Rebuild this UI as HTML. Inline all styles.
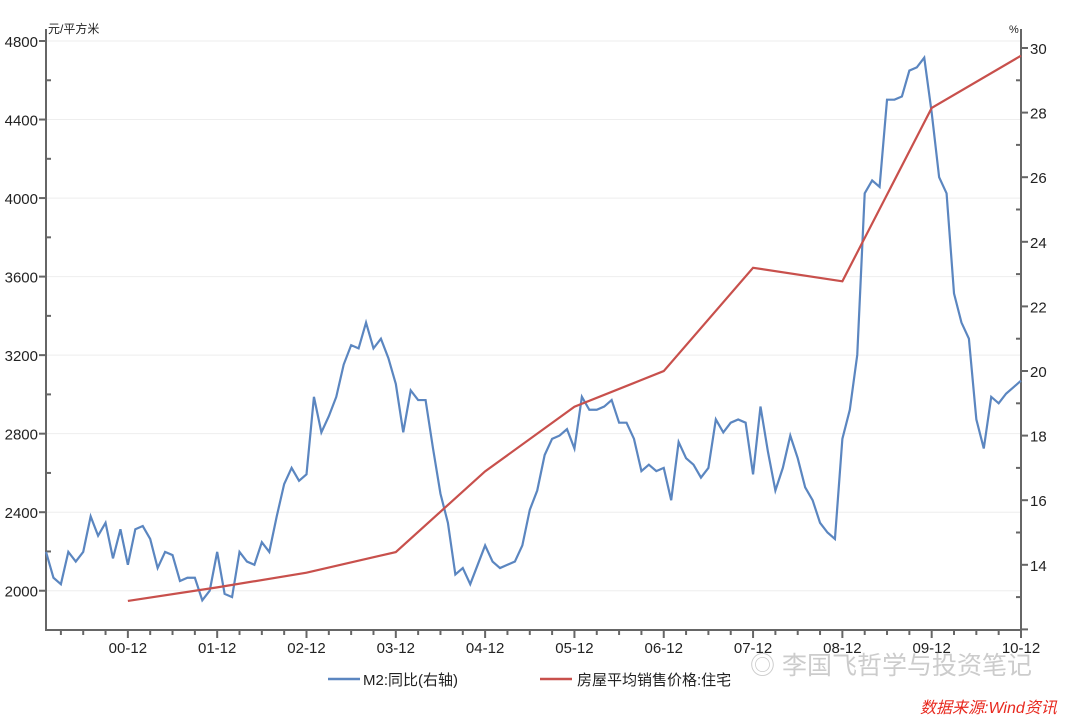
<!DOCTYPE html>
<html><head><meta charset="utf-8"><style>
body{margin:0;background:#fff;}
svg{display:block;font-family:"Liberation Sans","Noto Sans CJK SC",sans-serif;}
</style></head><body>
<svg id="chart" width="1080" height="716" viewBox="0 0 1080 716" xmlns="http://www.w3.org/2000/svg">
<g id="grid"></g>
<g id="axes"></g>
<g id="series"></g>
<text x="48" y="33" font-size="12" fill="#222">元/平方米</text>
<text x="1009" y="33" font-size="11" fill="#222">%</text>
<g>
<line x1="328" y1="679" x2="360" y2="679" stroke="#5b86c0" stroke-width="2.5"/>
<text x="363" y="685" font-size="15" fill="#222">M2:同比(右轴)</text>
<line x1="540" y1="679" x2="572" y2="679" stroke="#c8504c" stroke-width="2.5"/>
<text x="577" y="685" font-size="15" fill="#222">房屋平均销售价格:住宅</text>
</g>
<text x="750" y="674" font-size="25" fill="#cccccc">◎ 李国飞哲学与投资笔记</text>
<text x="920" y="713" font-size="16" font-style="italic" fill="#e8291f">数据来源:Wind资讯</text>
</svg>
<script>
const xLabels=["00-12","01-12","02-12","03-12","04-12","05-12","06-12","07-12","08-12","09-12","10-12"];
const leftTicks=[2000,2400,2800,3200,3600,4000,4400,4800];
const rightTicks=[14,16,18,20,22,24,26,28,30];
const priceMonths=[11,23,35,47,59,71,83,95,107,119,131];
const priceValues=[1948,2017,2092,2197,2608,2937,3119,3645,3576,4459,4725];
const m2Values=[14.4,13.6,13.4,14.4,14.1,14.4,15.5,14.9,15.3,14.2,15.1,14.0,
15.1,15.2,14.8,13.9,14.4,14.3,13.5,13.6,13.6,12.9,13.2,14.4,
13.1,13.0,14.4,14.1,14.0,14.7,14.4,15.5,16.5,17.0,16.6,16.8,
19.2,18.1,18.6,19.2,20.2,20.8,20.7,21.5,20.7,21.0,20.4,19.6,
18.1,19.4,19.1,19.1,17.6,16.2,15.3,13.7,13.9,13.4,14.0,14.6,
14.1,13.9,14.0,14.1,14.6,15.7,16.3,17.4,17.9,18.0,18.2,17.6,
19.2,18.8,18.8,18.9,19.1,18.4,18.4,17.9,16.9,17.1,16.9,17.0,
16.0,17.8,17.3,17.1,16.7,17.0,18.5,18.1,18.4,18.5,18.4,16.8,
18.9,17.5,16.3,17.0,18.0,17.3,16.4,16.0,15.3,15.0,14.8,17.9,
18.8,20.5,25.5,25.9,25.7,28.4,28.4,28.5,29.3,29.4,29.7,28.0,
26.0,25.5,22.4,21.5,21.0,18.5,17.6,19.2,19.0,19.3,19.5,19.7];
const X0=46,X1=1021,YB=630,YT=29;
const xs=m=>X0+m*(X1-X0)/131;
const yL=v=>630-(v-1800)*(589/3000);
const yR=v=>48+(30-v)*32.3;
const NS="http://www.w3.org/2000/svg";
function mk(p,tag,at){const e=document.createElementNS(NS,tag);for(const k in at)e.setAttribute(k,at[k]);p.appendChild(e);return e;}
const grid=document.getElementById('grid'),axes=document.getElementById('axes'),ser=document.getElementById('series');
leftTicks.forEach(v=>{
 const g=mk(grid,'line',{x1:X0,x2:X1,y1:yL(v),y2:yL(v),stroke:'#eeeeee','stroke-width':1});
 
 
 const t=mk(axes,'text',{x:X0-8,y:yL(v)+6,'font-size':15,'text-anchor':'end',fill:'#222'});t.textContent=v;
 
 
});
for(let v=1800;v<=4800;v+=200){mk(axes,'line',{x1:X0-(v%400==0?7:0),x2:X0+(v%400==0?0:5),y1:yL(v),y2:yL(v),stroke:'#666','stroke-width':2});}
rightTicks.forEach(v=>{
 const t=mk(axes,'text',{x:X1+9,y:yR(v)+6,'font-size':15,fill:'#222'});t.textContent=v;
 
 
});
for(let v=12;v<=30;v++){mk(axes,'line',{x1:X1-(v%2?5:0),x2:X1+(v%2?0:7),y1:yR(v),y2:yR(v),stroke:'#666','stroke-width':2});}
for(let m=2;m<=131;m+=3){const major=(m-11)%12==0;mk(axes,'line',{x1:xs(m),x2:xs(m),y1:YB,y2:YB+(major?8:5),stroke:'#666','stroke-width':2});}
xLabels.forEach((l,i)=>{
 const t=mk(axes,'text',{x:xs(11+12*i),y:YB+23,'font-size':15,'text-anchor':'middle',fill:'#222'});t.textContent=l;
 
 
});
const ax=mk(axes,'path',{d:`M${X0},${YT}V${YB}H${X1}V${YT}`,fill:'none',stroke:'#666','stroke-width':2});


const m2=mk(ser,'polyline',{points:m2Values.map((v,i)=>xs(i)+','+yR(v)).join(' '),fill:'none',stroke:'#5b86c0','stroke-width':2.2});


const pr=mk(ser,'polyline',{points:priceValues.map((v,i)=>xs(priceMonths[i])+','+yL(v)).join(' '),fill:'none',stroke:'#c8504c','stroke-width':2.2});


</script>
</body></html>
